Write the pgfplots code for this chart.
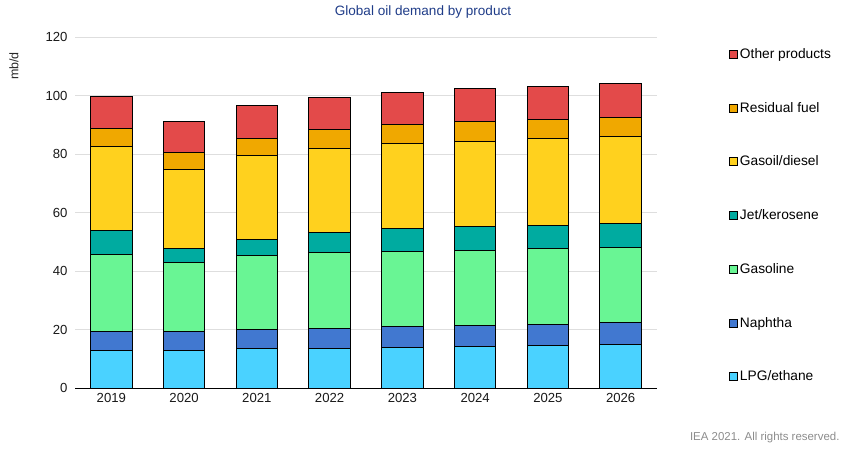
\documentclass[border=0pt]{standalone}
\usepackage{pgfplots}
\pgfplotsset{compat=1.18}
\usepackage{fontspec}
\setmainfont{Liberation Sans}
\definecolor{cLPG}{RGB}{74,210,255}
\definecolor{cNap}{RGB}{65,120,208}
\definecolor{cGas}{RGB}{105,245,148}
\definecolor{cJet}{RGB}{0,171,160}
\definecolor{cDie}{RGB}{255,209,30}
\definecolor{cRes}{RGB}{240,168,0}
\definecolor{cOth}{RGB}{227,74,74}
\definecolor{ctitle}{RGB}{31,60,136}
\begin{document}
\begin{tikzpicture}
\path (0bp,0bp) rectangle (843bp,457bp);
\node[font=\fontsize{13.6}{15}\selectfont, text=ctitle] at (423bp,445bp) {Global oil demand by product};
\node[font=\fontsize{12.5}{14}\selectfont, text=black!85, rotate=90] at (14bp,391bp) {mb/d};
\node[font=\fontsize{11.5}{13}\selectfont, text=black!45, anchor=east] at (843bp,19bp) {IEA 2021. All rights reserved.};
\begin{axis}[
  at={(75bp,68.7bp)}, anchor=south west,
  scale only axis, width=582bp, height=351bp,
  ybar stacked, bar width=41.6bp,
  xmin=-0.5, xmax=7.5, ymin=0, ymax=120,
  xtick={0,...,7}, xticklabels={2019,2020,2021,2022,2023,2024,2025,2026},
  ytick={0,20,...,120},
  ymajorgrids, grid style={draw=black!13, line width=0.8bp},
  axis x line*=bottom, axis y line*=left,
  x axis line style={black, line width=1bp, -},
  y axis line style={draw=none},
  major tick length=0pt,
  tick label style={font=\fontsize{13.2}{15}\selectfont, text=black!90},
  /pgf/number format/assume math mode=true,
  xticklabel style={yshift=-1bp},
  yticklabel style={xshift=-4bp},
  every axis plot/.append style={draw=black, line width=0.9bp},
  reverse legend,
  legend style={at={(1,1)}, xshift=72bp, yshift=-9bp, anchor=north west, draw=none, fill=none,
    font=\fontsize{13.8}{16}\selectfont, row sep=38.3bp, inner sep=0pt},
  legend cell align=left,
  legend image code/.code={\draw[#1, line width=0.8bp] (0bp,-4bp) rectangle (8bp,4bp);},
]
\addplot[fill=cLPG] coordinates {(0,13.0) (1,13.0) (2,13.7) (3,13.7) (4,14.0) (5,14.4) (6,14.7) (7,15.0)};
\addplot[fill=cNap] coordinates {(0,6.5) (1,6.5) (2,6.5) (3,6.8) (4,7.2) (5,7.2) (6,7.2) (7,7.5)};
\addplot[fill=cGas] coordinates {(0,26.3) (1,23.6) (2,25.3) (3,26.0) (4,25.6) (5,25.6) (6,26.0) (7,25.6)};
\addplot[fill=cJet] coordinates {(0,8.2) (1,4.8) (2,5.5) (3,6.8) (4,7.9) (5,8.2) (6,7.9) (7,8.2)};
\addplot[fill=cDie] coordinates {(0,28.7) (1,27.0) (2,28.7) (3,28.7) (4,29.0) (5,29.0) (6,29.6) (7,29.7)};
\addplot[fill=cRes] coordinates {(0,6.15) (1,5.8) (2,5.8) (3,6.5) (4,6.5) (5,6.8) (6,6.5) (7,6.5)};
\addplot[fill=cOth] coordinates {(0,11.05) (1,10.6) (2,11.3) (3,10.9) (4,10.9) (5,11.3) (6,11.3) (7,11.6)};
\legend{LPG/ethane,Naphtha,Gasoline,Jet/kerosene,Gasoil/diesel,Residual fuel,Other products}
\end{axis}
\end{tikzpicture}
\end{document}
